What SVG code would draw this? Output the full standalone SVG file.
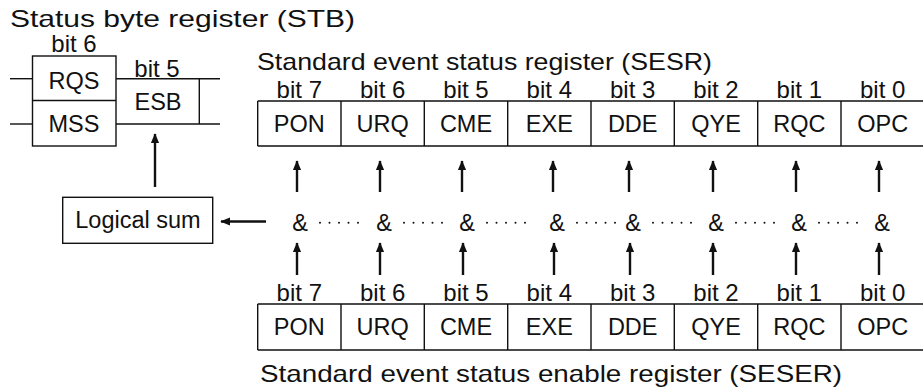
<svg xmlns="http://www.w3.org/2000/svg" width="923" height="392" viewBox="0 0 923 392">
<defs>
<style>
text{font-family:"Liberation Sans",Arial,Helvetica,sans-serif;fill:#111}
.t{font-size:24px}
.b{font-size:24px;text-anchor:middle}
.l{font-size:23.5px;text-anchor:middle}
.box{fill:none;stroke:#111;stroke-width:1.4}
.ln{stroke:#111;stroke-width:1.4;fill:none}
.ar{stroke:#111;stroke-width:2.4;fill:none;marker-end:url(#ah)}
.dots{stroke:#111;stroke-width:2;stroke-linecap:round;stroke-dasharray:0 9.5;fill:none}
</style>
<marker id="ah" viewBox="0 0 12 10" refX="11" refY="5" markerWidth="4.2" markerHeight="3.6" orient="auto" markerUnits="strokeWidth">
<path d="M0,0 L12,5 L0,10 Z" fill="#111"/>
</marker>
</defs>
<rect width="923" height="392" fill="#fff"/>

<g id="stb">
<text class="t" x="10" y="27" textLength="345" lengthAdjust="spacingAndGlyphs">Status byte register (STB)</text>
<text class="b" x="74" y="52">bit 6</text>
<rect class="box" x="32.5" y="56" width="83.5" height="90"/>
<line class="ln" x1="32.5" y1="100.5" x2="116" y2="100.5"/>
<line class="ln" x1="10" y1="78.7" x2="32.5" y2="78.7"/>
<line class="ln" x1="10" y1="124" x2="32.5" y2="124"/>
<text class="l" x="74" y="89">RQS</text>
<text class="l" x="74" y="132">MSS</text>
<text class="b" x="157" y="77">bit 5</text>
<line class="ln" x1="116" y1="78.7" x2="220" y2="78.7"/>
<line class="ln" x1="116" y1="124" x2="220" y2="124"/>
<line class="ln" x1="199.3" y1="78.7" x2="199.3" y2="124"/>
<text class="l" x="158" y="110">ESB</text>
</g>

<g id="sesr">
<text class="t" x="257" y="70" textLength="455" lengthAdjust="spacingAndGlyphs">Standard event status register (SESR)</text>
<text class="b" x="299.3" y="98">bit 7</text>
<text class="b" x="382.7" y="98">bit 6</text>
<text class="b" x="466" y="98">bit 5</text>
<text class="b" x="549.3" y="98">bit 4</text>
<text class="b" x="632.7" y="98">bit 3</text>
<text class="b" x="716" y="98">bit 2</text>
<text class="b" x="799.3" y="98">bit 1</text>
<text class="b" x="882.7" y="98">bit 0</text>
<path class="ln" d="M257.7,101 H924 M257.7,146 H924 M257.7,101 V146 M341,101 V146 M424.3,101 V146 M507.7,101 V146 M591,101 V146 M674.3,101 V146 M757.7,101 V146 M841,101 V146"/>
<text class="l" x="299.3" y="132">PON</text>
<text class="l" x="382.7" y="132">URQ</text>
<text class="l" x="466" y="132">CME</text>
<text class="l" x="549.3" y="132">EXE</text>
<text class="l" x="632.7" y="132">DDE</text>
<text class="l" x="716" y="132">QYE</text>
<text class="l" x="799.3" y="132">RQC</text>
<text class="l" x="882.7" y="132">OPC</text>
</g>

<g id="seser">
<text class="b" x="299.3" y="301">bit 7</text>
<text class="b" x="382.7" y="301">bit 6</text>
<text class="b" x="466" y="301">bit 5</text>
<text class="b" x="549.3" y="301">bit 4</text>
<text class="b" x="632.7" y="301">bit 3</text>
<text class="b" x="716" y="301">bit 2</text>
<text class="b" x="799.3" y="301">bit 1</text>
<text class="b" x="882.7" y="301">bit 0</text>
<path class="ln" d="M257.7,304 H924 M257.7,350 H924 M257.7,304 V350 M341,304 V350 M424.3,304 V350 M507.7,304 V350 M591,304 V350 M674.3,304 V350 M757.7,304 V350 M841,304 V350"/>
<text class="l" x="299.3" y="335">PON</text>
<text class="l" x="382.7" y="335">URQ</text>
<text class="l" x="466" y="335">CME</text>
<text class="l" x="549.3" y="335">EXE</text>
<text class="l" x="632.7" y="335">DDE</text>
<text class="l" x="716" y="335">QYE</text>
<text class="l" x="799.3" y="335">RQC</text>
<text class="l" x="882.7" y="335">OPC</text>
<text class="t" x="260" y="381.7" textLength="582" lengthAdjust="spacingAndGlyphs">Standard event status enable register (SESER)</text>
</g>

<g id="logical-sum">
<rect class="box" x="62.7" y="197.3" width="150" height="46"/>
<text class="l" x="138" y="228">Logical sum</text>
</g>

<g id="and-gates">
<text class="l" x="300" y="230.5">&amp;</text>
<text class="l" x="384" y="230.5">&amp;</text>
<text class="l" x="467" y="230.5">&amp;</text>
<text class="l" x="557" y="230.5">&amp;</text>
<text class="l" x="633" y="230.5">&amp;</text>
<text class="l" x="716" y="230.5">&amp;</text>
<text class="l" x="799" y="230.5">&amp;</text>
<text class="l" x="882" y="230.5">&amp;</text>
</g>

<g id="connectors">
<path class="dots" d="M320,222.7 H359 M404,222.7 H443 M487,222.7 H526 M577,222.7 H616 M653,222.7 H692 M736,222.7 H775 M819,222.7 H858"/>
<line class="ar" x1="155" y1="187" x2="155" y2="134"/>
<line class="ar" x1="266" y1="221.5" x2="221" y2="221.5"/>
<line class="ar" x1="297" y1="192" x2="297" y2="161"/>
<line class="ar" x1="380" y1="192" x2="380" y2="161"/>
<line class="ar" x1="462" y1="192" x2="462" y2="161"/>
<line class="ar" x1="553" y1="192" x2="553" y2="161"/>
<line class="ar" x1="629" y1="192" x2="629" y2="161"/>
<line class="ar" x1="713" y1="192" x2="713" y2="161"/>
<line class="ar" x1="796" y1="192" x2="796" y2="161"/>
<line class="ar" x1="879" y1="192" x2="879" y2="161"/>
<line class="ar" x1="297" y1="275" x2="297" y2="243"/>
<line class="ar" x1="380" y1="275" x2="380" y2="243"/>
<line class="ar" x1="463" y1="275" x2="463" y2="243"/>
<line class="ar" x1="554" y1="275" x2="554" y2="243"/>
<line class="ar" x1="630" y1="275" x2="630" y2="243"/>
<line class="ar" x1="713" y1="275" x2="713" y2="243"/>
<line class="ar" x1="796" y1="275" x2="796" y2="243"/>
<line class="ar" x1="879" y1="275" x2="879" y2="243"/>
</g>
</svg>
